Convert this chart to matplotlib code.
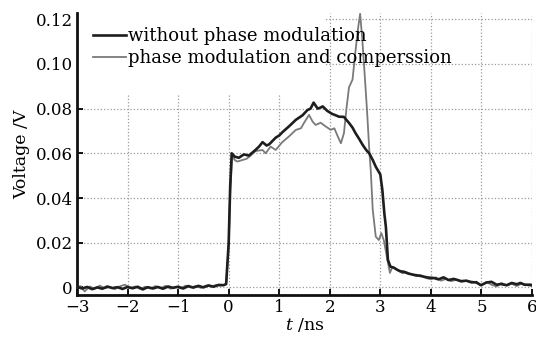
import matplotlib

matplotlib.use("Agg")

import matplotlib.pyplot as plt
from matplotlib.patches import Rectangle

# ---- data ----
T_BLACK = [
    -3.0, -2.9, -2.8, -2.7, -2.6, -2.5, -2.4, -2.3, -2.2, -2.1, -2.0, -1.9, -1.8, -1.7, -1.6,
    -1.5, -1.4, -1.3, -1.2, -1.1, -1.0, -0.9, -0.8, -0.7, -0.6, -0.5, -0.4, -0.3, -0.2, -0.1,
    -0.05, 0.0, 0.03, 0.06, 0.12, 0.2, 0.3, 0.4, 0.53, 0.6, 0.67, 0.75, 0.8, 0.93, 1.0, 1.07,
    1.19, 1.26, 1.33, 1.46, 1.56, 1.62, 1.68, 1.76, 1.82, 1.86, 1.95, 2.05, 2.12, 2.18, 2.28,
    2.38, 2.45, 2.51, 2.58, 2.65, 2.72, 2.78, 2.85, 2.91, 3.0, 3.04, 3.08, 3.11, 3.15, 3.2,
    3.27, 3.34, 3.4, 3.47, 3.55, 3.67, 3.78, 3.86, 3.95, 4.06, 4.15, 4.25, 4.35, 4.45, 4.5,
    4.6, 4.7, 4.8, 4.9, 4.99, 5.1, 5.2, 5.3, 5.38, 5.5, 5.6, 5.7, 5.77, 5.85, 5.97, 6.0,
]
V_BLACK = [
    0.0003, -0.0005, 0.0002, -0.0008, 0.0000, -0.0006, 0.0004, -0.0003, 0.0001, -0.0007,
    0.0002, -0.0004, 0.0003, -0.0009, 0.0001, -0.0005, 0.0002, -0.0006, 0.0004, -0.0002,
    0.0003, -0.0005, 0.0006, -0.0001, 0.0007, 0.0000, 0.0009, 0.0003, 0.0011, 0.0010,
    0.0015, 0.020, 0.045, 0.060, 0.0585, 0.058, 0.0595, 0.059, 0.0615, 0.063, 0.065, 0.0635,
    0.064, 0.067, 0.068, 0.0696, 0.072, 0.0735, 0.075, 0.077, 0.0794, 0.080, 0.0827, 0.080,
    0.0805, 0.081, 0.079, 0.0776, 0.077, 0.0764, 0.0763, 0.0736, 0.0715, 0.069, 0.0665,
    0.0638, 0.0615, 0.060, 0.057, 0.054, 0.0505, 0.0436, 0.033, 0.027, 0.0123, 0.0093,
    0.0088, 0.0078, 0.0072, 0.0070, 0.0062, 0.0056, 0.0052, 0.0048, 0.0044, 0.0042, 0.0036,
    0.0045, 0.0033, 0.0038, 0.0035, 0.0028, 0.0030, 0.0024, 0.0022, 0.0010, 0.0022, 0.0025,
    0.0012, 0.0015, 0.0010, 0.0020, 0.0014, 0.0020, 0.0012, 0.0012, 0.0010,
]

T_GRAY = [
    -3.0, -2.93, -2.85, -2.75, -2.65, -2.55, -2.45, -2.35, -2.25, -2.15, -2.05, -1.95, -1.85,
    -1.75, -1.65, -1.55, -1.45, -1.35, -1.25, -1.15, -1.05, -0.95, -0.85, -0.75, -0.65, -0.55,
    -0.45, -0.35, -0.25, -0.15, -0.05, 0.0, 0.03, 0.07, 0.12, 0.17, 0.27, 0.35, 0.41, 0.53,
    0.67, 0.73, 0.83, 0.93, 1.06, 1.19, 1.33, 1.43, 1.49, 1.59, 1.66, 1.72, 1.82, 1.92, 2.02,
    2.09, 2.15, 2.22, 2.28, 2.33, 2.38, 2.45, 2.51, 2.56, 2.6, 2.64, 2.68, 2.74, 2.78, 2.81,
    2.85, 2.91, 2.97, 3.02, 3.07, 3.14, 3.19, 3.24, 3.34, 3.44, 3.52, 3.62, 3.72, 3.8, 3.9,
    4.0, 4.1, 4.2, 4.3, 4.4, 4.5, 4.6, 4.7, 4.8, 4.9, 5.0, 5.1, 5.2, 5.3, 5.4, 5.5, 5.6,
    5.7, 5.8, 5.9, 6.0,
]
V_GRAY = [
    0.0000, 0.0006, -0.0018, 0.0004, -0.0006, 0.0008, -0.0004, 0.0002, -0.0008, 0.0005,
    0.0012, -0.0003, 0.0004, -0.0007, 0.0003, -0.0005, 0.0006, -0.0004, 0.0007, -0.0006,
    0.0003, -0.0004, 0.0008, 0.0000, 0.0006, -0.0002, 0.0008, 0.0004, 0.0010, 0.0008,
    0.0014, 0.018, 0.043, 0.059, 0.057, 0.0563, 0.057, 0.0575, 0.0585, 0.061, 0.0615, 0.060,
    0.063, 0.0615, 0.065, 0.0675, 0.0705, 0.0712, 0.0736, 0.0772, 0.0742, 0.0727, 0.0737,
    0.072, 0.0705, 0.0712, 0.068, 0.0645, 0.069, 0.080, 0.0895, 0.093, 0.106, 0.116, 0.1225,
    0.112, 0.0988, 0.078, 0.062, 0.0526, 0.0347, 0.0227, 0.0212, 0.0243, 0.021, 0.0123,
    0.0065, 0.0092, 0.0078, 0.0063, 0.0068, 0.0058, 0.0050, 0.0055, 0.0042, 0.0036, 0.0045,
    0.0030, 0.0038, 0.0028, 0.0034, 0.0025, 0.0030, 0.0020, 0.0026, 0.0008, 0.0024, 0.0012,
    0.0004, 0.0020, 0.0008, 0.0016, 0.0006, 0.0018, 0.0010, 0.0006,
]

X_TICKS = [-3, -2, -1, 0, 1, 2, 3, 4, 5, 6]
Y_TICKS = [0, 0.02, 0.04, 0.06, 0.08, 0.10, 0.12]
Y_TICK_LABELS = ["0", "0.02", "0.04", "0.06", "0.08", "0.10", "0.12"]
LABELS = ["without phase modulation", "phase modulation and comperssion"]

plt.rcParams.update({
    "font.family": "DejaVu Serif",
    "mathtext.fontset": "dejavuserif",
    "font.size": 12,
})

fig = plt.figure(figsize=(5.36, 3.39), dpi=100)
ax = fig.add_axes([0.1437, 0.1298, 0.8488, 0.8319])

ax.set_xlim(-3, 6)
ax.set_ylim(-0.0034, 0.1228)
ax.set_xticks(X_TICKS)
ax.set_yticks(Y_TICKS)
ax.set_yticklabels(Y_TICK_LABELS)
ax.tick_params(direction="in", length=4, width=1.3, labelsize=12, pad=3)

ax.grid(True, color="#9a9a9a", linestyle=":", linewidth=0.9)
ax.set_axisbelow(True)
for s in ["top", "right"]:
    ax.spines[s].set_visible(False)
for s in ["left", "bottom"]:
    ax.spines[s].set_linewidth(2.0)
    ax.spines[s].set_color("#111111")

# white patch hiding the grid behind the legend
ax.add_patch(Rectangle((0, 0.709), 0.545, 0.3, transform=ax.transAxes,
                       facecolor="white", edgecolor="none", zorder=1))

ax.plot(T_GRAY, V_GRAY, color="#7a7a7a", lw=1.3, zorder=3, label=LABELS[1])
ax.plot(T_BLACK, V_BLACK, color="#1e1e1e", lw=1.9, zorder=4, label=LABELS[0])

h, l = ax.get_legend_handles_labels()
leg = ax.legend(h[::-1], l[::-1], loc="upper left", bbox_to_anchor=(0.02, 0.975),
                frameon=False, handlelength=1.8, handletextpad=0.1,
                labelspacing=0.22, fontsize=13, borderaxespad=0)
leg.set_zorder(5)

ax.set_ylabel("Voltage /V", fontsize=12.5, labelpad=4)
ax.set_xlabel("$t$ /ns", fontsize=12.5, labelpad=0)

fig.savefig("out.png", dpi=100)
